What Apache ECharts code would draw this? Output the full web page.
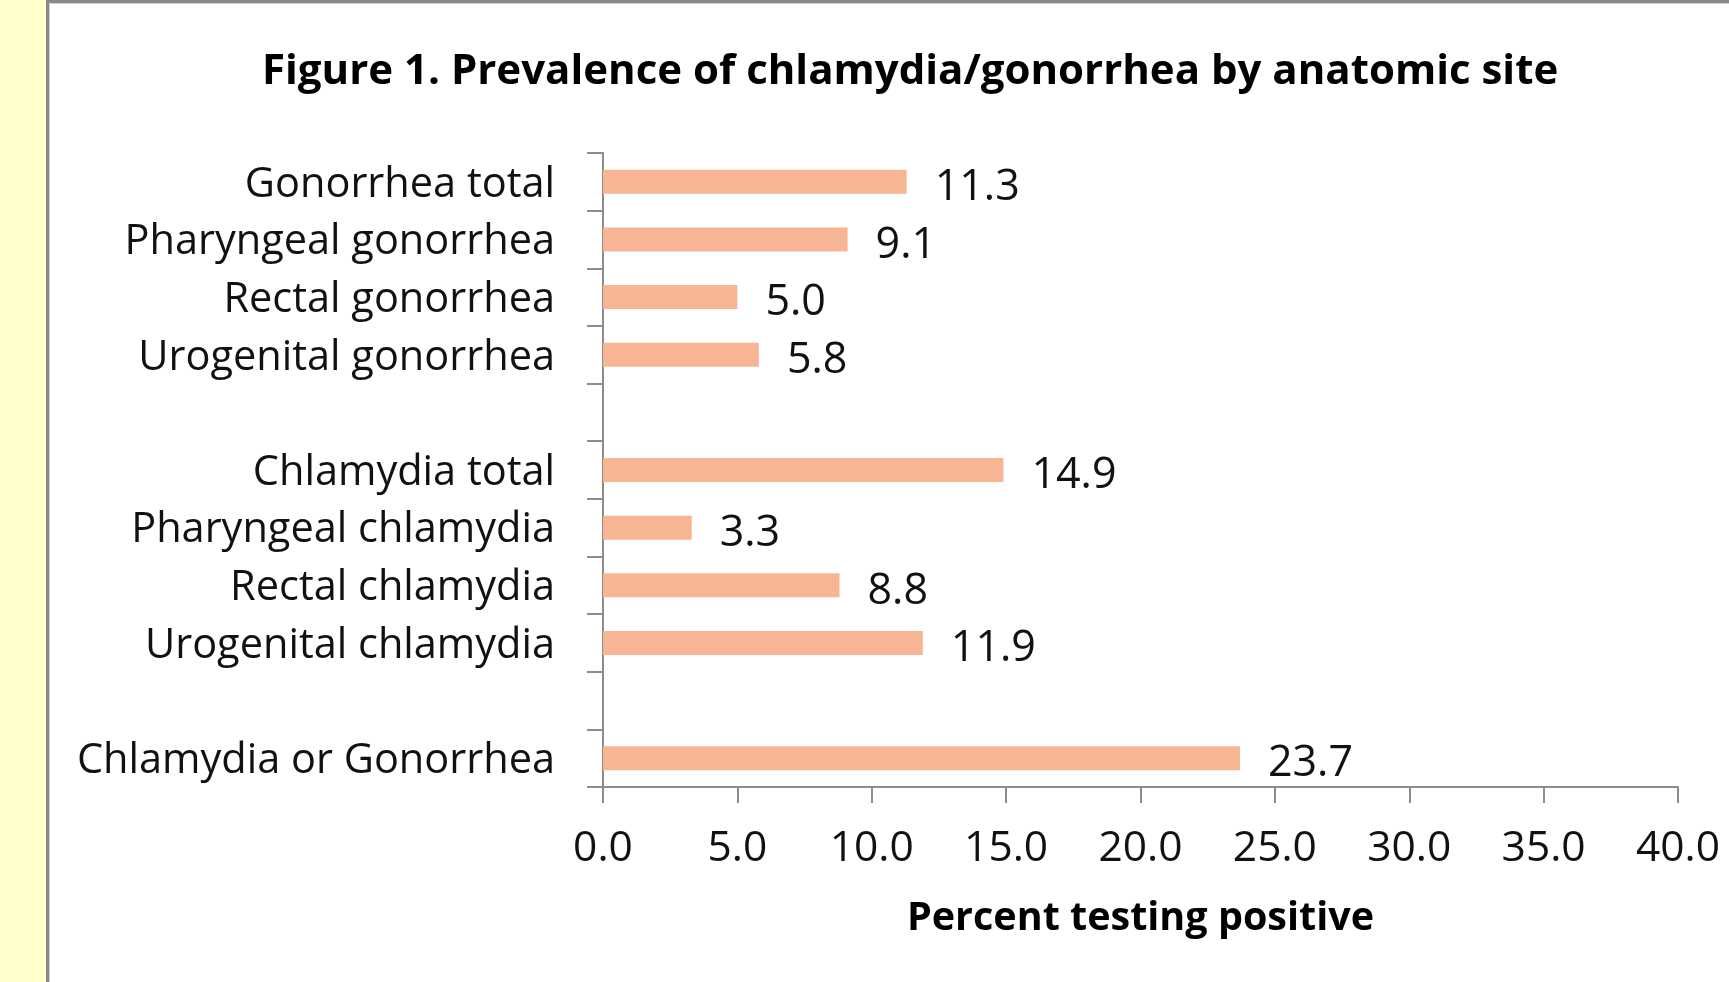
<!DOCTYPE html>
<html>
<head>
<meta charset="utf-8">
<script src="https://cdn.jsdelivr.net/npm/echarts@6/dist/echarts.min.js"></script>
<style>
html,body{margin:0;padding:0;background:#fff;}
#chart{width:1729px;height:982px;}
</style>
</head>
<body>
<div id="chart"></div>
<script>
const categories = [
  'Gonorrhea total',
  'Pharyngeal gonorrhea',
  'Rectal gonorrhea',
  'Urogenital gonorrhea',
  ' ',
  'Chlamydia total',
  'Pharyngeal chlamydia',
  'Rectal chlamydia',
  'Urogenital chlamydia',
  '  ',
  'Chlamydia or Gonorrhea'
];
const values = [11.3, 9.1, 5.0, 5.8, null, 14.9, 3.3, 8.8, 11.9, null, 23.7];
const xTicks = { min: 0, max: 40, interval: 5 };
const titleText = 'Figure 1. Prevalence of chlamydia/gonorrhea by anatomic site';
const xAxisName = 'Percent testing positive';

const FONT = '"Open Sans", "Noto Sans", sans-serif';
const axisGray = '#8c8c8c';

const chart = echarts.init(document.getElementById('chart'), null, {renderer: 'canvas'});
chart.setOption({
  backgroundColor: '#ffffff',
  animation: false,
  graphic: [
    {type: 'rect', left: 0, top: 0, shape: {width: 46, height: 982}, style: {fill: '#FFFFCC'}, silent: true},
    {type: 'rect', left: 46, top: 0, shape: {width: 3, height: 982}, style: {fill: '#898989'}, silent: true},
    {type: 'rect', left: 49, top: 0, shape: {width: 1, height: 982}, style: {fill: '#cfcfcf'}, silent: true},
    {type: 'rect', left: 46, top: 0, shape: {width: 1683, height: 3}, style: {fill: '#898989'}, silent: true},
    {type: 'rect', left: 49, top: 3, shape: {width: 1680, height: 1}, style: {fill: '#cfcfcf'}, silent: true}
  ],
  title: {
    text: titleText,
    left: 257,
    top: 46,
    textStyle: {fontFamily: FONT, fontWeight: 'bold', fontSize: 42, color: '#000'}
  },
  grid: {left: 603, right: 51, top: 153, bottom: 195, containLabel: false},
  xAxis: {
    type: 'value',
    min: xTicks.min, max: xTicks.max, interval: xTicks.interval,
    name: xAxisName,
    nameLocation: 'middle',
    nameGap: 112,
    nameTextStyle: {fontFamily: FONT, fontWeight: 'bold', fontSize: 39.5, color: '#000', verticalAlign: 'top'},
    axisLine: {show: true, lineStyle: {color: axisGray, width: 2}},
    axisTick: {show: true, inside: false, length: 16, lineStyle: {color: axisGray, width: 2}},
    splitLine: {show: false},
    axisLabel: {
      margin: 40,
      fontFamily: FONT, fontSize: 42.5, color: '#111',
      formatter: v => v.toFixed(1)
    }
  },
  yAxis: {
    type: 'category',
    inverse: true,
    data: categories,
    axisLine: {show: true, lineStyle: {color: axisGray, width: 2}},
    axisTick: {show: true, inside: false, length: 16, alignWithLabel: false, lineStyle: {color: axisGray, width: 2}},
    splitLine: {show: false},
    axisLabel: {
      margin: 48, fontFamily: FONT, fontSize: 41.5, color: '#111',
      formatter: v => '{c|' + v + '}',
      rich: {c: {fontFamily: FONT, fontSize: 41.5, color: '#111', padding: [6, 0, 0, 0]}}
    }
  },
  series: [{
    type: 'bar',
    data: values,
    barWidth: 24,
    itemStyle: {color: '#F8B593'},
    label: {
      show: true,
      position: 'right',
      distance: 28,
      offset: [0, 6],
      fontFamily: FONT, fontSize: 43, color: '#111',
      formatter: p => p.value == null ? '' : Number(p.value).toFixed(1)
    }
  }]
});
</script>
</body>
</html>
